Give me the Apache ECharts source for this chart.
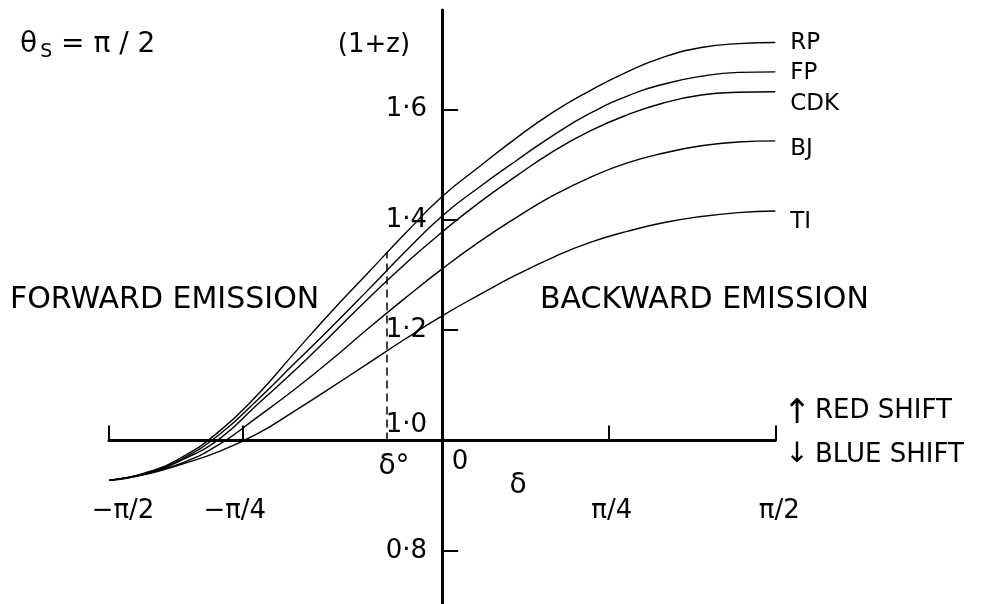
<!DOCTYPE html>
<html>
<head>
<meta charset="utf-8">
<script src="https://cdn.jsdelivr.net/npm/echarts@6/dist/echarts.min.js"></script>
<style>
  html, body { margin: 0; padding: 0; background: #fff; }
  #chart { width: 993px; height: 604px; }
</style>
</head>
<body>
<div id="chart"></div>
<script>
// ---- data (delta in degrees, value = 1+z) ----
const deltaDeg = [-90, -80, -70, -60, -50, -40, -30, -20, -10, 0, 10, 20, 30, 40, 50, 60, 70, 80, 90];
const RP  = [0.928, 0.942, 0.971, 1.018, 1.082, 1.158, 1.233, 1.304, 1.375, 1.442, 1.496, 1.548, 1.595, 1.634, 1.668, 1.695, 1.712, 1.719, 1.721];
const FP  = [0.928, 0.941, 0.968, 1.012, 1.073, 1.139, 1.205, 1.273, 1.342, 1.407, 1.459, 1.507, 1.553, 1.593, 1.624, 1.646, 1.660, 1.667, 1.668];
const CDK = [0.928, 0.940, 0.966, 1.004, 1.065, 1.126, 1.191, 1.257, 1.320, 1.378, 1.431, 1.479, 1.524, 1.561, 1.590, 1.612, 1.626, 1.631, 1.632];
const BJ  = [0.928, 0.940, 0.960, 0.994, 1.042, 1.092, 1.146, 1.203, 1.258, 1.311, 1.360, 1.404, 1.444, 1.477, 1.503, 1.521, 1.534, 1.541, 1.543];
const TI  = [0.928, 0.939, 0.958, 0.981, 1.012, 1.053, 1.096, 1.140, 1.184, 1.226, 1.264, 1.300, 1.332, 1.359, 1.379, 1.395, 1.406, 1.413, 1.416];
const seriesNames = ['RP', 'FP', 'CDK', 'BJ', 'TI'];
const labelShiftY = [0, 1, 12, 8, 11];

const xTickValues = [-90, -54, 45, 90];
const xTickLabels = ['\u2212\u03c0/2', '\u2212\u03c0/4', '\u03c0/4', '\u03c0/2'];
const yTickValues = [0.8, 1.2, 1.4, 1.6];
const yLabelValues = [0.8, 1.0, 1.2, 1.4, 1.6];

const deltaZero = -15;      // δ° position
const deltaZeroTop = 1.34;  // where dashed line meets RP

const FONT = 'DejaVu Sans';

const allData = [RP, FP, CDK, BJ, TI];

const GRID_LEFT = 109, GRID_RIGHT = 217.7;
const PLOT_W = 993 - GRID_LEFT - GRID_RIGHT;
const X_MIN = -90, X_MAX = 90;
// the vertical axis sits at delta = 0
const yAxisShift = -(0 - X_MIN) / (X_MAX - X_MIN) * PLOT_W;

const chart = echarts.init(document.getElementById('chart'), null, { renderer: 'canvas' });

const series = seriesNames.map((name, i) => ({
  name: name,
  type: 'line',
  data: deltaDeg.map((d, k) => [d, allData[i][k]]),
  smooth: 0.5,
  showSymbol: false,
  symbol: 'none',
  clip: false,
  silent: true,
  lineStyle: { color: '#000', width: 1.4 },
  endLabel: {
    show: true,
    formatter: '{a}',
    distance: 15,
    offset: [0, labelShiftY[i]],
    color: '#000',
    fontFamily: FONT,
    fontSize: 23
  },
  markLine: i === 0 ? {
    silent: true,
    symbol: 'none',
    label: { show: false },
    lineStyle: { color: '#000', width: 1.5, type: [8, 5] },
    data: [[{ coord: [deltaZero, 1.0] }, { coord: [deltaZero, deltaZeroTop] }]]
  } : undefined
}));

function txt(text, x, y, size, align, valign) {
  return {
    type: 'text', x: x, y: y, silent: true,
    style: {
      text: text, fill: '#000',
      font: size + 'px "' + FONT + '"',
      fontSize: size, fontFamily: FONT,
      align: align, textAlign: align,
      verticalAlign: valign, textVerticalAlign: valign
    }
  };
}

const xRich = {
  l0: { padding: [0, 0, 0, 28], fontFamily: FONT, fontSize: 26, color: '#000' },
  l1: { padding: [0, 15, 0, 0], fontFamily: FONT, fontSize: 26, color: '#000' },
  l2: { padding: [0, 0, 0, 6], fontFamily: FONT, fontSize: 26, color: '#000' },
  l3: { padding: [0, 0, 0, 8], fontFamily: FONT, fontSize: 26, color: '#000' }
};

const option = {
  animation: false,
  backgroundColor: '#fff',
  grid: { left: GRID_LEFT, right: GRID_RIGHT, top: 10, bottom: -2.2, containLabel: false, outerBoundsMode: 'none' },
  xAxis: {
    type: 'value', min: X_MIN, max: X_MAX,
    position: 'bottom',
    offset: -165.6,
    splitLine: { show: false },
    axisLine: { show: true, onZero: false, lineStyle: { color: '#000', width: 3 } },
    axisTick: { show: true, inside: true, length: 15, customValues: xTickValues, lineStyle: { color: '#000', width: 2 } },
    axisLabel: {
      show: true, customValues: xTickValues, margin: 58,
      color: '#000', fontFamily: FONT, fontSize: 26,
      formatter: function (v) {
        const k = xTickValues.indexOf(v);
        return k >= 0 ? '{l' + k + '|' + xTickLabels[k] + '}' : '';
      },
      rich: xRich
    }
  },
  yAxis: {
    type: 'value', min: 0.7, max: 1.78,
    position: 'left',
    offset: yAxisShift,
    splitLine: { show: false },
    axisLine: { show: true, onZero: false, lineStyle: { color: '#000', width: 3 } },
    axisTick: { show: true, inside: true, length: 16, customValues: yTickValues, lineStyle: { color: '#000', width: 2 } },
    axisLabel: {
      show: true, customValues: yLabelValues, margin: 15,
      color: '#000', fontFamily: FONT, fontSize: 26,
      formatter: function (v) {
        const s = v.toFixed(1).replace('.', '\u00b7');
        return Math.abs(v - 1.0) < 1e-9 ? '{up|' + s + '}' : s;
      },
      rich: { up: { padding: [0, 0, 30, 0], fontFamily: FONT, fontSize: 26, color: '#000' } }
    }
  },
  graphic: [
    {
      type: 'text', x: 20, y: 45, silent: true,
      style: {
        text: '{a|\u03b8}{s|S}{a| = \u03c0 / 2}',
        verticalAlign: 'middle', textVerticalAlign: 'middle',
        rich: {
          a: { fontFamily: FONT, fontSize: 28, fill: '#000', color: '#000' },
          s: { fontFamily: FONT, fontSize: 19, fill: '#000', color: '#000', padding: [14, 0, 0, 3] }
        }
      }
    },
    txt('(1+z)', 374, 45, 26, 'center', 'middle'),
    txt('FORWARD EMISSION', 10, 300, 30, 'left', 'middle'),
    txt('BACKWARD EMISSION', 540, 300, 30, 'left', 'middle'),
    txt('\u2191', 797, 414, 34, 'center', 'middle'),
    txt('RED SHIFT', 815, 411, 26, 'left', 'middle'),
    txt('\u2193', 797, 455, 28, 'center', 'middle'),
    txt('BLUE SHIFT', 815, 455, 26, 'left', 'middle'),
    txt('0', 460, 462, 26, 'center', 'middle'),
    txt('\u03b4\u00b0', 394, 467, 28, 'center', 'middle'),
    txt('\u03b4', 518, 486, 28, 'center', 'middle')
  ],
  series: series
};

chart.setOption(option);
</script>
</body>
</html>
